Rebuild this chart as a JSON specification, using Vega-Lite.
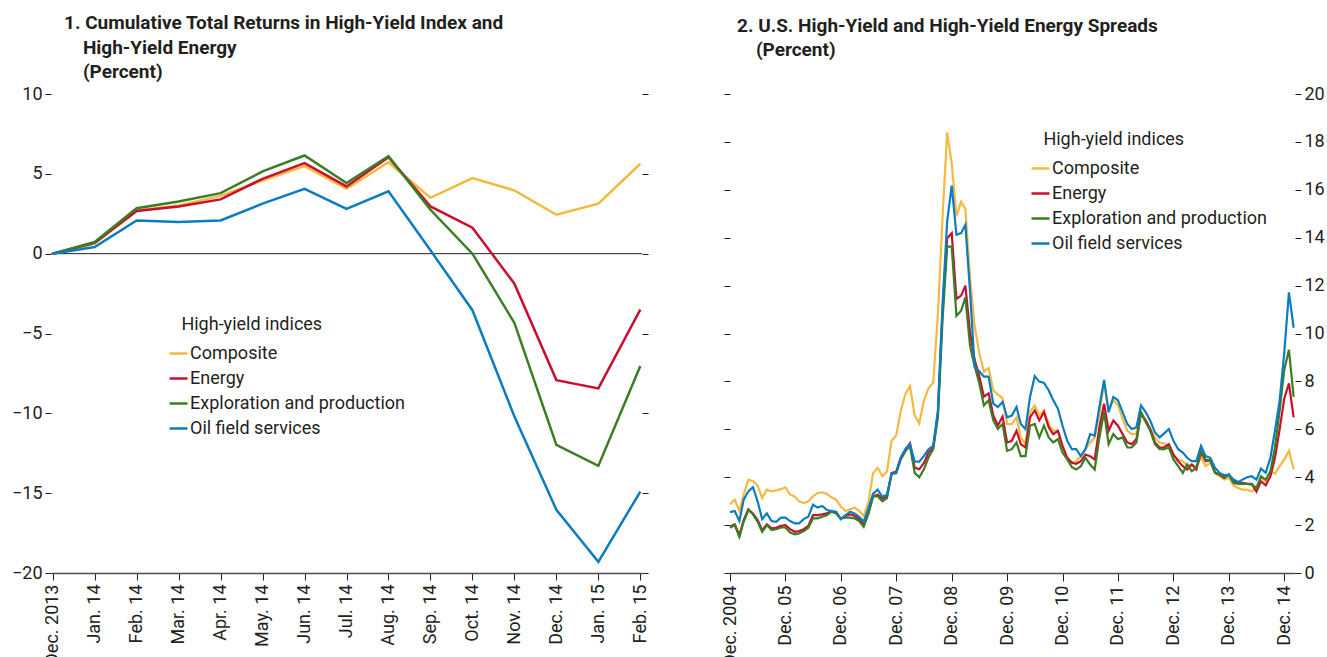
{
  "$schema": "https://vega.github.io/schema/vega-lite/v6.json",
  "padding": {"left": 11, "top": 14, "right": 0, "bottom": 0},
  "background": "white",
  "config": {
    "font": "Roboto",
    "view": {"stroke": null},
    "axis": {
      "labelFont": "Roboto",
      "labelFontSize": 18,
      "labelColor": "#231f20",
      "tickColor": "#231f20",
      "domainColor": "#4d4d4d",
      "grid": false,
      "title": null
    },
    "title": {
      "font": "Roboto",
      "fontSize": 19,
      "fontWeight": "bold",
      "anchor": "start",
      "frame": "group",
      "color": "#231f20",
      "lineHeight": 24.5
    },
    "legend": {
      "labelFont": "Roboto",
      "titleFont": "Roboto",
      "labelFontSize": 18,
      "titleFontSize": 18,
      "titleFontWeight": "normal",
      "labelColor": "#231f20",
      "titleColor": "#231f20",
      "labelLimit": 400,
      "titleLimit": 400,
      "symbolType": "stroke",
      "symbolSize": 324,
      "symbolStrokeWidth": 2.5,
      "rowPadding": 5,
      "labelOffset": 1,
      "padding": 0,
      "titlePadding": 9,
      "orient": "none"
    }
  },
  "datasets": {
    "returns": [
      {"m": "Dec. 2013", "s": "Composite", "v": 0},
      {"m": "Jan. 14", "s": "Composite", "v": 0.63},
      {"m": "Feb. 14", "s": "Composite", "v": 2.71},
      {"m": "Mar. 14", "s": "Composite", "v": 3.02},
      {"m": "Apr. 14", "s": "Composite", "v": 3.62},
      {"m": "May. 14", "s": "Composite", "v": 4.58},
      {"m": "Jun. 14", "s": "Composite", "v": 5.48},
      {"m": "Jul. 14", "s": "Composite", "v": 4.06},
      {"m": "Aug. 14", "s": "Composite", "v": 5.73},
      {"m": "Sep. 14", "s": "Composite", "v": 3.5},
      {"m": "Oct. 14", "s": "Composite", "v": 4.73},
      {"m": "Nov. 14", "s": "Composite", "v": 3.96},
      {"m": "Dec. 14", "s": "Composite", "v": 2.44},
      {"m": "Jan. 15", "s": "Composite", "v": 3.13},
      {"m": "Feb. 15", "s": "Composite", "v": 5.63},
      {"m": "Dec. 2013", "s": "Energy", "v": 0},
      {"m": "Jan. 14", "s": "Energy", "v": 0.67},
      {"m": "Feb. 14", "s": "Energy", "v": 2.67},
      {"m": "Mar. 14", "s": "Energy", "v": 2.96},
      {"m": "Apr. 14", "s": "Energy", "v": 3.4},
      {"m": "May. 14", "s": "Energy", "v": 4.69},
      {"m": "Jun. 14", "s": "Energy", "v": 5.67},
      {"m": "Jul. 14", "s": "Energy", "v": 4.21},
      {"m": "Aug. 14", "s": "Energy", "v": 6.04},
      {"m": "Sep. 14", "s": "Energy", "v": 2.96},
      {"m": "Oct. 14", "s": "Energy", "v": 1.63},
      {"m": "Nov. 14", "s": "Energy", "v": -1.88},
      {"m": "Dec. 14", "s": "Energy", "v": -7.92},
      {"m": "Jan. 15", "s": "Energy", "v": -8.44},
      {"m": "Feb. 15", "s": "Energy", "v": -3.5},
      {"m": "Dec. 2013", "s": "Exploration and production", "v": 0},
      {"m": "Jan. 14", "s": "Exploration and production", "v": 0.73},
      {"m": "Feb. 14", "s": "Exploration and production", "v": 2.85},
      {"m": "Mar. 14", "s": "Exploration and production", "v": 3.27},
      {"m": "Apr. 14", "s": "Exploration and production", "v": 3.79},
      {"m": "May. 14", "s": "Exploration and production", "v": 5.15},
      {"m": "Jun. 14", "s": "Exploration and production", "v": 6.15},
      {"m": "Jul. 14", "s": "Exploration and production", "v": 4.42},
      {"m": "Aug. 14", "s": "Exploration and production", "v": 6.1},
      {"m": "Sep. 14", "s": "Exploration and production", "v": 2.75},
      {"m": "Oct. 14", "s": "Exploration and production", "v": 0},
      {"m": "Nov. 14", "s": "Exploration and production", "v": -4.34},
      {"m": "Dec. 14", "s": "Exploration and production", "v": -11.98},
      {"m": "Jan. 15", "s": "Exploration and production", "v": -13.29},
      {"m": "Feb. 15", "s": "Exploration and production", "v": -7.04},
      {"m": "Dec. 2013", "s": "Oil field services", "v": 0},
      {"m": "Jan. 14", "s": "Oil field services", "v": 0.42},
      {"m": "Feb. 14", "s": "Oil field services", "v": 2.08},
      {"m": "Mar. 14", "s": "Oil field services", "v": 1.98},
      {"m": "Apr. 14", "s": "Oil field services", "v": 2.08},
      {"m": "May. 14", "s": "Oil field services", "v": 3.13},
      {"m": "Jun. 14", "s": "Oil field services", "v": 4.06},
      {"m": "Jul. 14", "s": "Oil field services", "v": 2.81},
      {"m": "Aug. 14", "s": "Oil field services", "v": 3.9},
      {"m": "Sep. 14", "s": "Oil field services", "v": 0.21},
      {"m": "Oct. 14", "s": "Oil field services", "v": -3.54},
      {"m": "Nov. 14", "s": "Oil field services", "v": -10.2},
      {"m": "Dec. 14", "s": "Oil field services", "v": -16.04},
      {"m": "Jan. 15", "s": "Oil field services", "v": -19.3},
      {"m": "Feb. 15", "s": "Oil field services", "v": -14.9}
    ],
    "composite": [
      {"d":"2004-12","v":2.87},{"d":"2005-01","v":3.06},{"d":"2005-02","v":2.59},{"d":"2005-03","v":3.27},{"d":"2005-04","v":3.9},{"d":"2005-05","v":3.83},{"d":"2005-06","v":3.65},{"d":"2005-07","v":3.13},{"d":"2005-08","v":3.48},{"d":"2005-09","v":3.41},{"d":"2005-10","v":3.45},{"d":"2005-11","v":3.5},{"d":"2005-12","v":3.58},
      {"d":"2006-01","v":3.27},{"d":"2006-02","v":3.2},{"d":"2006-03","v":2.99},{"d":"2006-04","v":2.92},{"d":"2006-05","v":2.99},{"d":"2006-06","v":3.2},{"d":"2006-07","v":3.34},{"d":"2006-08","v":3.37},{"d":"2006-09","v":3.3},{"d":"2006-10","v":3.15},{"d":"2006-11","v":3.06},{"d":"2006-12","v":2.77},
      {"d":"2007-01","v":2.59},{"d":"2007-02","v":2.66},{"d":"2007-03","v":2.73},{"d":"2007-04","v":2.6},{"d":"2007-05","v":2.38},{"d":"2007-06","v":2.95},{"d":"2007-07","v":4.15},{"d":"2007-08","v":4.4},{"d":"2007-09","v":4.04},{"d":"2007-10","v":4.23},{"d":"2007-11","v":5.53},{"d":"2007-12","v":5.73},
      {"d":"2008-01","v":6.79},{"d":"2008-02","v":7.5},{"d":"2008-03","v":7.8},{"d":"2008-04","v":6.58},{"d":"2008-05","v":6.25},{"d":"2008-06","v":7.21},{"d":"2008-07","v":7.71},{"d":"2008-08","v":7.95},{"d":"2008-09","v":10.8},{"d":"2008-10","v":14.8},{"d":"2008-11","v":18.4},{"d":"2008-12","v":17.1},
      {"d":"2009-01","v":14.9},{"d":"2009-02","v":15.5},{"d":"2009-03","v":15.2},{"d":"2009-04","v":12.3},{"d":"2009-05","v":10.3},{"d":"2009-06","v":9.18},{"d":"2009-07","v":8.41},{"d":"2009-08","v":8.55},{"d":"2009-09","v":7.63},{"d":"2009-10","v":7.45},{"d":"2009-11","v":7.3},{"d":"2009-12","v":6.22},
      {"d":"2010-01","v":6.22},{"d":"2010-02","v":6.5},{"d":"2010-03","v":5.66},{"d":"2010-04","v":5.38},{"d":"2010-05","v":6.72},{"d":"2010-06","v":7.0},{"d":"2010-07","v":6.58},{"d":"2010-08","v":6.79},{"d":"2010-09","v":6.22},{"d":"2010-10","v":5.94},{"d":"2010-11","v":5.94},{"d":"2010-12","v":5.31},
      {"d":"2011-01","v":4.81},{"d":"2011-02","v":4.6},{"d":"2011-03","v":4.67},{"d":"2011-04","v":4.88},{"d":"2011-05","v":5.17},{"d":"2011-06","v":5.45},{"d":"2011-07","v":5.66},{"d":"2011-08","v":6.65},{"d":"2011-09","v":7.92},{"d":"2011-10","v":6.79},{"d":"2011-11","v":7.21},{"d":"2011-12","v":7.0},
      {"d":"2012-01","v":6.44},{"d":"2012-02","v":5.94},{"d":"2012-03","v":5.8},{"d":"2012-04","v":5.8},{"d":"2012-05","v":6.72},{"d":"2012-06","v":6.39},{"d":"2012-07","v":6.01},{"d":"2012-08","v":5.66},{"d":"2012-09","v":5.45},{"d":"2012-10","v":5.41},{"d":"2012-11","v":5.24},{"d":"2012-12","v":4.88},
      {"d":"2013-01","v":4.74},{"d":"2013-02","v":4.67},{"d":"2013-03","v":4.5},{"d":"2013-04","v":4.53},{"d":"2013-05","v":4.46},{"d":"2013-06","v":4.81},{"d":"2013-07","v":4.46},{"d":"2013-08","v":4.6},{"d":"2013-09","v":4.18},{"d":"2013-10","v":4.04},{"d":"2013-11","v":3.9},{"d":"2013-12","v":3.97},
      {"d":"2014-01","v":3.66},{"d":"2014-02","v":3.55},{"d":"2014-03","v":3.48},{"d":"2014-04","v":3.48},{"d":"2014-05","v":3.4},{"d":"2014-06","v":3.55},{"d":"2014-07","v":3.97},{"d":"2014-08","v":3.83},{"d":"2014-09","v":4.25},{"d":"2014-10","v":4.14},{"d":"2014-11","v":4.46},{"d":"2014-12","v":4.74},
      {"d":"2015-01","v":5.1},{"d":"2015-02","v":4.32}
    ],
    "energy": [
      {"d":"2004-12","v":1.93},{"d":"2005-01","v":2.03},{"d":"2005-02","v":1.58},{"d":"2005-03","v":2.21},{"d":"2005-04","v":2.66},{"d":"2005-05","v":2.49},{"d":"2005-06","v":2.21},{"d":"2005-07","v":1.79},{"d":"2005-08","v":2.03},{"d":"2005-09","v":1.86},{"d":"2005-10","v":1.89},{"d":"2005-11","v":1.97},{"d":"2005-12","v":2.0},
      {"d":"2006-01","v":1.83},{"d":"2006-02","v":1.72},{"d":"2006-03","v":1.75},{"d":"2006-04","v":1.83},{"d":"2006-05","v":1.97},{"d":"2006-06","v":2.42},{"d":"2006-07","v":2.42},{"d":"2006-08","v":2.45},{"d":"2006-09","v":2.49},{"d":"2006-10","v":2.59},{"d":"2006-11","v":2.49},{"d":"2006-12","v":2.25},
      {"d":"2007-01","v":2.39},{"d":"2007-02","v":2.45},{"d":"2007-03","v":2.39},{"d":"2007-04","v":2.25},{"d":"2007-05","v":2.0},{"d":"2007-06","v":2.49},{"d":"2007-07","v":3.2},{"d":"2007-08","v":3.27},{"d":"2007-09","v":3.1},{"d":"2007-10","v":3.2},{"d":"2007-11","v":4.18},{"d":"2007-12","v":4.23},
      {"d":"2008-01","v":4.82},{"d":"2008-02","v":5.17},{"d":"2008-03","v":5.41},{"d":"2008-04","v":4.4},{"d":"2008-05","v":4.33},{"d":"2008-06","v":4.6},{"d":"2008-07","v":5.03},{"d":"2008-08","v":5.24},{"d":"2008-09","v":6.65},{"d":"2008-10","v":10.88},{"d":"2008-11","v":13.98},{"d":"2008-12","v":14.19},
      {"d":"2009-01","v":11.44},{"d":"2009-02","v":11.58},{"d":"2009-03","v":12.0},{"d":"2009-04","v":10.03},{"d":"2009-05","v":8.9},{"d":"2009-06","v":8.2},{"d":"2009-07","v":7.36},{"d":"2009-08","v":7.5},{"d":"2009-09","v":6.58},{"d":"2009-10","v":6.16},{"d":"2009-11","v":6.53},{"d":"2009-12","v":5.45},
      {"d":"2010-01","v":5.52},{"d":"2010-02","v":5.94},{"d":"2010-03","v":5.38},{"d":"2010-04","v":5.24},{"d":"2010-05","v":6.5},{"d":"2010-06","v":6.79},{"d":"2010-07","v":6.37},{"d":"2010-08","v":6.72},{"d":"2010-09","v":6.08},{"d":"2010-10","v":5.8},{"d":"2010-11","v":5.94},{"d":"2010-12","v":5.31},
      {"d":"2011-01","v":4.81},{"d":"2011-02","v":4.6},{"d":"2011-03","v":4.56},{"d":"2011-04","v":4.67},{"d":"2011-05","v":4.95},{"d":"2011-06","v":4.88},{"d":"2011-07","v":4.74},{"d":"2011-08","v":6.08},{"d":"2011-09","v":7.07},{"d":"2011-10","v":5.94},{"d":"2011-11","v":6.37},{"d":"2011-12","v":6.15},
      {"d":"2012-01","v":5.8},{"d":"2012-02","v":5.45},{"d":"2012-03","v":5.38},{"d":"2012-04","v":5.59},{"d":"2012-05","v":6.65},{"d":"2012-06","v":6.36},{"d":"2012-07","v":6.01},{"d":"2012-08","v":5.45},{"d":"2012-09","v":5.24},{"d":"2012-10","v":5.24},{"d":"2012-11","v":5.38},{"d":"2012-12","v":4.95},
      {"d":"2013-01","v":4.67},{"d":"2013-02","v":4.46},{"d":"2013-03","v":4.32},{"d":"2013-04","v":4.53},{"d":"2013-05","v":4.32},{"d":"2013-06","v":5.03},{"d":"2013-07","v":4.67},{"d":"2013-08","v":4.7},{"d":"2013-09","v":4.18},{"d":"2013-10","v":4.11},{"d":"2013-11","v":3.97},{"d":"2013-12","v":4.11},
      {"d":"2014-01","v":3.83},{"d":"2014-02","v":3.76},{"d":"2014-03","v":3.76},{"d":"2014-04","v":3.72},{"d":"2014-05","v":3.72},{"d":"2014-06","v":3.4},{"d":"2014-07","v":3.83},{"d":"2014-08","v":3.66},{"d":"2014-09","v":4.04},{"d":"2014-10","v":4.81},{"d":"2014-11","v":6.01},{"d":"2014-12","v":7.28},
      {"d":"2015-01","v":7.92},{"d":"2015-02","v":6.5}
    ],
    "exploration": [
      {"d":"2004-12","v":1.89},{"d":"2005-01","v":2.0},{"d":"2005-02","v":1.51},{"d":"2005-03","v":2.14},{"d":"2005-04","v":2.63},{"d":"2005-05","v":2.45},{"d":"2005-06","v":2.14},{"d":"2005-07","v":1.72},{"d":"2005-08","v":2.0},{"d":"2005-09","v":1.79},{"d":"2005-10","v":1.83},{"d":"2005-11","v":1.9},{"d":"2005-12","v":1.9},
      {"d":"2006-01","v":1.69},{"d":"2006-02","v":1.61},{"d":"2006-03","v":1.65},{"d":"2006-04","v":1.75},{"d":"2006-05","v":1.89},{"d":"2006-06","v":2.28},{"d":"2006-07","v":2.28},{"d":"2006-08","v":2.35},{"d":"2006-09","v":2.42},{"d":"2006-10","v":2.56},{"d":"2006-11","v":2.49},{"d":"2006-12","v":2.28},
      {"d":"2007-01","v":2.31},{"d":"2007-02","v":2.31},{"d":"2007-03","v":2.28},{"d":"2007-04","v":2.17},{"d":"2007-05","v":1.93},{"d":"2007-06","v":2.49},{"d":"2007-07","v":3.2},{"d":"2007-08","v":3.2},{"d":"2007-09","v":2.99},{"d":"2007-10","v":3.13},{"d":"2007-11","v":4.14},{"d":"2007-12","v":4.18},
      {"d":"2008-01","v":4.75},{"d":"2008-02","v":5.1},{"d":"2008-03","v":5.3},{"d":"2008-04","v":4.18},{"d":"2008-05","v":4.0},{"d":"2008-06","v":4.33},{"d":"2008-07","v":4.82},{"d":"2008-08","v":5.17},{"d":"2008-09","v":6.5},{"d":"2008-10","v":10.5},{"d":"2008-11","v":13.63},{"d":"2008-12","v":13.63},
      {"d":"2009-01","v":10.74},{"d":"2009-02","v":10.95},{"d":"2009-03","v":11.51},{"d":"2009-04","v":9.47},{"d":"2009-05","v":8.62},{"d":"2009-06","v":7.92},{"d":"2009-07","v":7.0},{"d":"2009-08","v":7.21},{"d":"2009-09","v":6.37},{"d":"2009-10","v":6.02},{"d":"2009-11","v":6.22},{"d":"2009-12","v":5.1},
      {"d":"2010-01","v":5.17},{"d":"2010-02","v":5.45},{"d":"2010-03","v":4.88},{"d":"2010-04","v":4.88},{"d":"2010-05","v":6.15},{"d":"2010-06","v":6.22},{"d":"2010-07","v":5.66},{"d":"2010-08","v":6.15},{"d":"2010-09","v":5.66},{"d":"2010-10","v":5.45},{"d":"2010-11","v":5.59},{"d":"2010-12","v":5.03},
      {"d":"2011-01","v":4.74},{"d":"2011-02","v":4.42},{"d":"2011-03","v":4.32},{"d":"2011-04","v":4.46},{"d":"2011-05","v":4.81},{"d":"2011-06","v":4.53},{"d":"2011-07","v":4.32},{"d":"2011-08","v":5.66},{"d":"2011-09","v":6.72},{"d":"2011-10","v":5.38},{"d":"2011-11","v":5.8},{"d":"2011-12","v":5.59},
      {"d":"2012-01","v":5.66},{"d":"2012-02","v":5.24},{"d":"2012-03","v":5.24},{"d":"2012-04","v":5.45},{"d":"2012-05","v":6.72},{"d":"2012-06","v":6.3},{"d":"2012-07","v":5.94},{"d":"2012-08","v":5.38},{"d":"2012-09","v":5.17},{"d":"2012-10","v":5.17},{"d":"2012-11","v":5.24},{"d":"2012-12","v":4.74},
      {"d":"2013-01","v":4.46},{"d":"2013-02","v":4.18},{"d":"2013-03","v":4.53},{"d":"2013-04","v":4.25},{"d":"2013-05","v":4.39},{"d":"2013-06","v":5.1},{"d":"2013-07","v":4.74},{"d":"2013-08","v":4.72},{"d":"2013-09","v":4.18},{"d":"2013-10","v":4.11},{"d":"2013-11","v":4.0},{"d":"2013-12","v":4.11},
      {"d":"2014-01","v":3.76},{"d":"2014-02","v":3.72},{"d":"2014-03","v":3.72},{"d":"2014-04","v":3.72},{"d":"2014-05","v":3.69},{"d":"2014-06","v":3.55},{"d":"2014-07","v":4.04},{"d":"2014-08","v":3.9},{"d":"2014-09","v":4.25},{"d":"2014-10","v":5.24},{"d":"2014-11","v":6.79},{"d":"2014-12","v":8.48},
      {"d":"2015-01","v":9.32},{"d":"2015-02","v":7.35}
    ],
    "oilfield": [
      {"d":"2004-12","v":2.54},{"d":"2005-01","v":2.59},{"d":"2005-02","v":2.17},{"d":"2005-03","v":3.06},{"d":"2005-04","v":3.41},{"d":"2005-05","v":3.58},{"d":"2005-06","v":2.99},{"d":"2005-07","v":2.25},{"d":"2005-08","v":2.49},{"d":"2005-09","v":2.17},{"d":"2005-10","v":2.14},{"d":"2005-11","v":2.31},{"d":"2005-12","v":2.31},
      {"d":"2006-01","v":2.17},{"d":"2006-02","v":2.07},{"d":"2006-03","v":2.07},{"d":"2006-04","v":2.25},{"d":"2006-05","v":2.35},{"d":"2006-06","v":2.85},{"d":"2006-07","v":2.73},{"d":"2006-08","v":2.8},{"d":"2006-09","v":2.63},{"d":"2006-10","v":2.59},{"d":"2006-11","v":2.56},{"d":"2006-12","v":2.25},
      {"d":"2007-01","v":2.42},{"d":"2007-02","v":2.56},{"d":"2007-03","v":2.49},{"d":"2007-04","v":2.35},{"d":"2007-05","v":2.15},{"d":"2007-06","v":2.7},{"d":"2007-07","v":3.3},{"d":"2007-08","v":3.48},{"d":"2007-09","v":3.18},{"d":"2007-10","v":3.27},{"d":"2007-11","v":4.15},{"d":"2007-12","v":4.17},
      {"d":"2008-01","v":4.82},{"d":"2008-02","v":5.17},{"d":"2008-03","v":5.38},{"d":"2008-04","v":4.65},{"d":"2008-05","v":4.65},{"d":"2008-06","v":4.89},{"d":"2008-07","v":5.17},{"d":"2008-08","v":5.31},{"d":"2008-09","v":6.79},{"d":"2008-10","v":11.16},{"d":"2008-11","v":14.68},{"d":"2008-12","v":16.17},
      {"d":"2009-01","v":14.12},{"d":"2009-02","v":14.19},{"d":"2009-03","v":14.54},{"d":"2009-04","v":11.73},{"d":"2009-05","v":8.62},{"d":"2009-06","v":8.41},{"d":"2009-07","v":8.2},{"d":"2009-08","v":8.2},{"d":"2009-09","v":7.07},{"d":"2009-10","v":6.93},{"d":"2009-11","v":7.14},{"d":"2009-12","v":6.5},
      {"d":"2010-01","v":6.57},{"d":"2010-02","v":6.93},{"d":"2010-03","v":6.22},{"d":"2010-04","v":6.01},{"d":"2010-05","v":7.35},{"d":"2010-06","v":8.22},{"d":"2010-07","v":7.99},{"d":"2010-08","v":7.94},{"d":"2010-09","v":7.63},{"d":"2010-10","v":7.21},{"d":"2010-11","v":6.86},{"d":"2010-12","v":6.15},
      {"d":"2011-01","v":5.52},{"d":"2011-02","v":5.17},{"d":"2011-03","v":5.17},{"d":"2011-04","v":4.88},{"d":"2011-05","v":5.17},{"d":"2011-06","v":5.8},{"d":"2011-07","v":5.73},{"d":"2011-08","v":6.93},{"d":"2011-09","v":8.06},{"d":"2011-10","v":6.72},{"d":"2011-11","v":7.35},{"d":"2011-12","v":7.21},
      {"d":"2012-01","v":6.72},{"d":"2012-02","v":6.22},{"d":"2012-03","v":6.01},{"d":"2012-04","v":6.08},{"d":"2012-05","v":7.0},{"d":"2012-06","v":6.72},{"d":"2012-07","v":6.36},{"d":"2012-08","v":5.87},{"d":"2012-09","v":5.66},{"d":"2012-10","v":5.83},{"d":"2012-11","v":6.01},{"d":"2012-12","v":5.52},
      {"d":"2013-01","v":5.17},{"d":"2013-02","v":5.03},{"d":"2013-03","v":4.81},{"d":"2013-04","v":4.67},{"d":"2013-05","v":4.67},{"d":"2013-06","v":5.31},{"d":"2013-07","v":4.88},{"d":"2013-08","v":4.81},{"d":"2013-09","v":4.39},{"d":"2013-10","v":4.18},{"d":"2013-11","v":4.08},{"d":"2013-12","v":4.11},
      {"d":"2014-01","v":3.9},{"d":"2014-02","v":3.8},{"d":"2014-03","v":3.9},{"d":"2014-04","v":4.0},{"d":"2014-05","v":4.04},{"d":"2014-06","v":3.9},{"d":"2014-07","v":4.36},{"d":"2014-08","v":4.18},{"d":"2014-09","v":4.81},{"d":"2014-10","v":5.94},{"d":"2014-11","v":7.21},{"d":"2014-12","v":9.18},
      {"d":"2015-01","v":11.72},{"d":"2015-02","v":10.24}
    ]
  },
  "spacing": 71,
  "hconcat": [
    {
      "width": 591,
      "height": 479,
      "title": {
        "text": ["1. Cumulative Total Returns in High-Yield Index and", "\u200b\u00a0\u00a0\u00a0\u00a0High-Yield Energy", "\u200b\u00a0\u00a0\u00a0\u00a0(Percent)"],
        "dx": 13,
        "offset": 3
      },
      "layer": [
        {
          "data": {"values": [{}]},
          "mark": {"type": "rule", "color": "#231f20", "strokeWidth": 1},
          "encoding": {
            "y": {
              "datum": 0,
              "type": "quantitative",
              "scale": {"domain": [-20, 10], "nice": false, "zero": false},
              "axis": {"orient": "right", "labels": false, "domain": false, "values": [-20, -15, -10, -5, 0, 5, 10], "tickSize": 6}
            }
          }
        },
        {
          "data": {"name": "returns"},
          "mark": {"type": "line", "strokeWidth": 2.5},
          "encoding": {
            "x": {
              "field": "m",
              "type": "ordinal",
              "scale": {
                "type": "point",
                "padding": 0.04,
                "domain": ["Dec. 2013", "Jan. 14", "Feb. 14", "Mar. 14", "Apr. 14", "May. 14", "Jun. 14", "Jul. 14", "Aug. 14", "Sep. 14", "Oct. 14", "Nov. 14", "Dec. 14", "Jan. 15", "Feb. 15"]
              },
              "axis": {"labelAngle": 270, "tickSize": 7, "labelPadding": 4, "domainWidth": 1.5, "labelOverlap": false}
            },
            "y": {
              "field": "v",
              "type": "quantitative",
              "scale": {"domain": [-20, 10], "nice": false, "zero": false},
              "axis": {"orient": "left", "values": [-20, -15, -10, -5, 0, 5, 10], "domain": false, "tickSize": 6, "labelPadding": 3}
            },
            "color": {
              "field": "s",
              "type": "nominal",
              "scale": {
                "domain": ["Composite", "Energy", "Exploration and production", "Oil field services"],
                "range": ["#f6b940", "#c8102e", "#3b7d23", "#0a7cc1"]
              },
              "legend": {"title": "\u200b\u00a0\u00a0\u00a0High-yield indices", "legendX": 117, "legendY": 222}
            }
          }
        }
      ],
      "resolve": {"axis": {"y": "independent"}}
    },
    {
      "width": 565,
      "height": 479,
      "title": {
        "text": ["2. U.S. High-Yield and High-Yield Energy Spreads", "\u200b\u00a0\u00a0\u00a0\u00a0(Percent)"],
        "dx": 7,
        "offset": 25
      },
      "layer": [
        {
          "data": {"name": "composite", "format": {"parse": {"d": "date:'%Y-%m'"}}},
          "mark": {"type": "line", "strokeWidth": 2.2},
          "encoding": {
            "x": {
              "field": "d",
              "type": "temporal",
              "scale": {"domain": [{"year": 2004, "month": 12, "date": 1}, {"year": 2015, "month": 2, "date": 10}]},
              "axis": {
                "values": [
                  {"year": 2004, "month": 12, "date": 1}, {"year": 2005, "month": 12, "date": 1}, {"year": 2006, "month": 12, "date": 1},
                  {"year": 2007, "month": 12, "date": 1}, {"year": 2008, "month": 12, "date": 1}, {"year": 2009, "month": 12, "date": 1},
                  {"year": 2010, "month": 12, "date": 1}, {"year": 2011, "month": 12, "date": 1}, {"year": 2012, "month": 12, "date": 1},
                  {"year": 2013, "month": 12, "date": 1}, {"year": 2014, "month": 12, "date": 1}
                ],
                "labelExpr": "year(datum.value) == 2004 ? 'Dec. 2004' : 'Dec. ' + timeFormat(datum.value, '%y')",
                "labelAngle": 270,
                "tickSize": 8,
                "labelPadding": 4,
                "domainWidth": 1.5,
                "labelOverlap": false
              }
            },
            "y": {
              "field": "v",
              "type": "quantitative",
              "scale": {"domain": [0, 20], "nice": false},
              "axis": {"orient": "right", "values": [0, 2, 4, 6, 8, 10, 12, 14, 16, 18, 20], "domain": false, "tickSize": 6, "labelPadding": 3}
            },
            "color": {
              "datum": "Composite",
              "type": "nominal",
              "scale": {
                "domain": ["Composite", "Energy", "Exploration and production", "Oil field services"],
                "range": ["#f6b940", "#c8102e", "#3b7d23", "#0a7cc1"]
              },
              "legend": {"title": "\u200b\u00a0\u00a0\u00a0High-yield indices", "legendX": 300, "legendY": 37}
            }
          }
        },
        {
          "data": {"name": "energy", "format": {"parse": {"d": "date:'%Y-%m'"}}},
          "mark": {"type": "line", "strokeWidth": 2.2},
          "encoding": {
            "x": {"field": "d", "type": "temporal"},
            "y": {
              "field": "v",
              "type": "quantitative",
              "axis": {"orient": "left", "labels": false, "values": [0, 2, 4, 6, 8, 10, 12, 14, 16, 18, 20], "domain": false, "tickSize": 6}
            },
            "color": {"datum": "Energy", "type": "nominal"}
          }
        },
        {
          "data": {"name": "exploration", "format": {"parse": {"d": "date:'%Y-%m'"}}},
          "mark": {"type": "line", "strokeWidth": 2.2},
          "encoding": {
            "x": {"field": "d", "type": "temporal"},
            "y": {"field": "v", "type": "quantitative", "axis": null},
            "color": {"datum": "Exploration and production", "type": "nominal"}
          }
        },
        {
          "data": {"name": "oilfield", "format": {"parse": {"d": "date:'%Y-%m'"}}},
          "mark": {"type": "line", "strokeWidth": 2.2},
          "encoding": {
            "x": {"field": "d", "type": "temporal"},
            "y": {"field": "v", "type": "quantitative", "axis": null},
            "color": {"datum": "Oil field services", "type": "nominal"}
          }
        }
      ],
      "resolve": {"axis": {"y": "independent"}}
    }
  ],
  "resolve": {"scale": {"color": "independent"}, "legend": {"color": "independent"}}
}
